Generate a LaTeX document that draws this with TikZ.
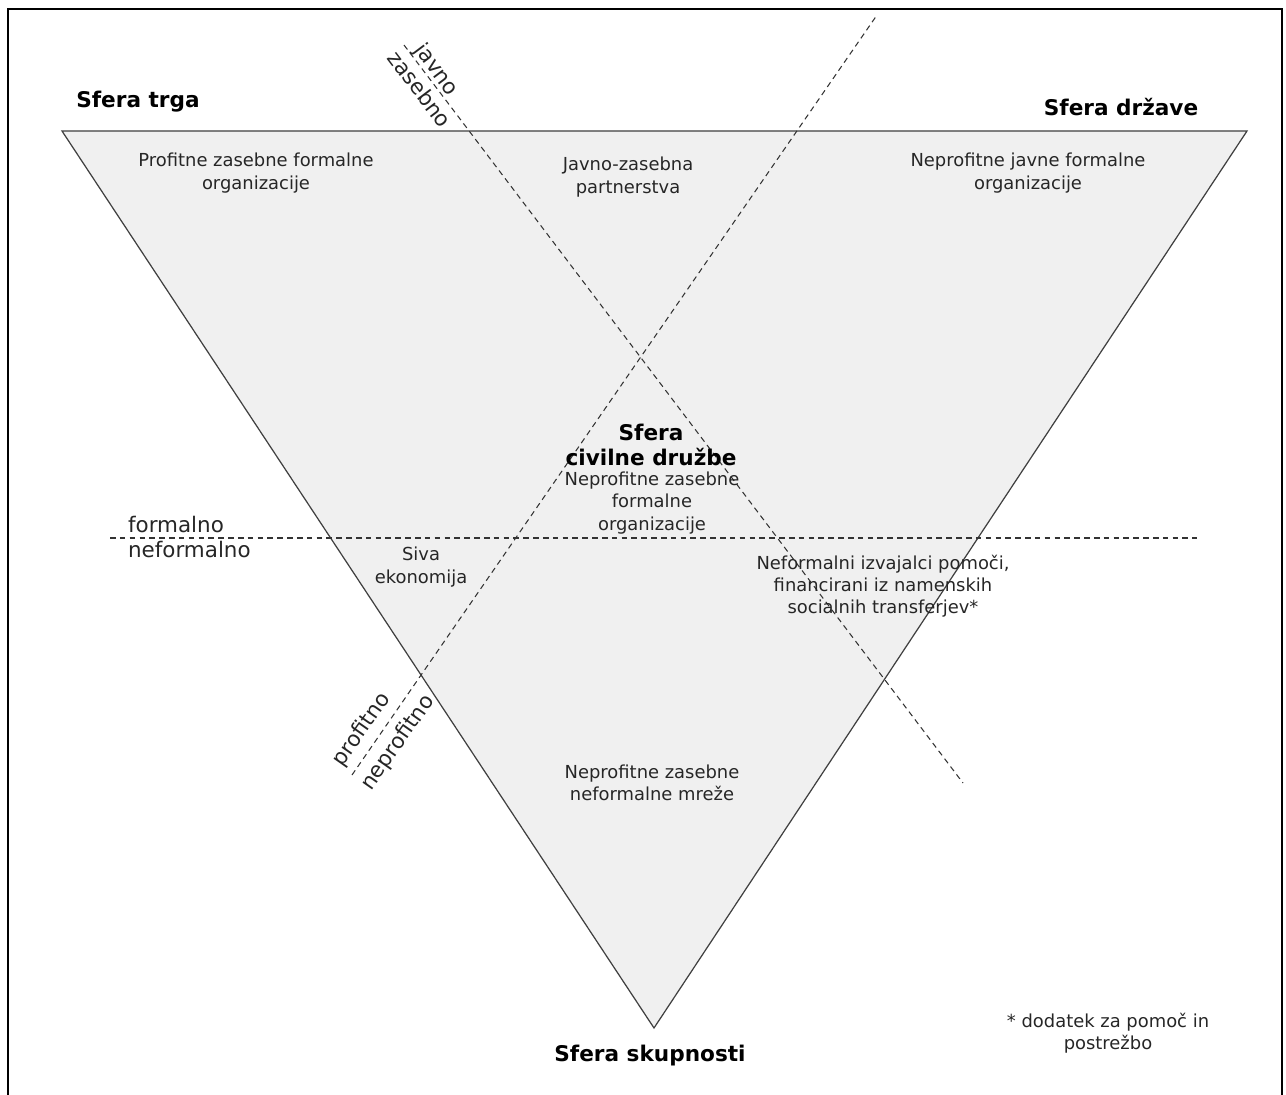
\documentclass[tikz,border=0pt]{standalone}
\usepackage{fontspec}
\setmainfont{DejaVu Sans}
\begin{document}
\begin{tikzpicture}[x=0.02cm,y=-0.02cm,
        txt/.style={align=center,font=\fontsize{10.2}{12.6}\selectfont,text=black!85},
        big/.style={align=center,font=\fontsize{12.3}{14.5}\selectfont\bfseries},
        lbl/.style={align=left,inner sep=1pt,font=\fontsize{12.2}{13}\selectfont,text=black!85},
        divide/.style={dashed,dash pattern=on 3.2pt off 2.4pt,black!80,line width=0.6pt}]
        \useasboundingbox (0,0) rectangle (1286,1095);
        \draw[line width=1.1pt] (8,1100) -- (8,9) -- (1282,9) -- (1282,1100);

        % triangle
        \coordinate (tl) at (62,131);
        \coordinate (tr) at (1247,131);
        \coordinate (bt) at (654,1028);
        \draw[fill=black!6,draw=black!75,line width=0.7pt] (tl) -- (tr) -- (bt) -- cycle;

        % dividing lines
        \coordinate (fa) at (110,538);
        \coordinate (fb) at (1197,538);
        \coordinate (ja) at (404,45);
        \coordinate (jb) at (963,783);
        \coordinate (pa) at (352,775);
        \coordinate (pb) at (877,15);
        \draw[divide] (fa) -- (fb);
        \draw[divide] (ja) -- (jb);
        \draw[divide] (pa) -- (pb);

        \node[big] (trg) at (138,102) {Sfera trga};
        \node[big] (drz) at (1121,107) {Sfera države};
        \node[big] (sku) at (650,1056) {Sfera skupnosti};
        \node[big] (civ) at (651,445) {Sfera\\civilne družbe};

        \node[txt] (pzf) at (256,173) {Profitne zasebne formalne\\organizacije};
        \node[txt] (jzp) at (628,177) {Javno-zasebna\\partnerstva};
        \node[txt] (njf) at (1028,173) {Neprofitne javne formalne\\organizacije};
        \node[txt] (nzf) at (652,503) {Neprofitne zasebne\\formalne\\organizacije};
        \node[txt] (siva) at (421,567) {Siva\\ekonomija};
        \node[txt] (nip) at (883,586) {Neformalni izvajalci pomoči,\\financirani iz namenskih\\socialnih transferjev*};
        \node[txt] (nzm) at (652,783) {Neprofitne zasebne\\neformalne mreže};
        \node[txt] (opomba) at (1108,1033) {* dodatek za pomoč in\\postrežbo};

        \node[lbl,anchor=west] (form) at (126,525) {formalno};
        \node[lbl,anchor=west] (nform) at (126,550) {neformalno};
        \node[lbl,rotate=-53] (jav) at (436,70) {javno};
        \node[lbl,rotate=-53] (zas) at (420,89) {zasebno};
        \node[lbl,rotate=55] (prof) at (362,730) {profitno};
        \node[lbl,rotate=55] (nprof) at (398,743) {neprofitno};
    \end{tikzpicture}
\end{document}
